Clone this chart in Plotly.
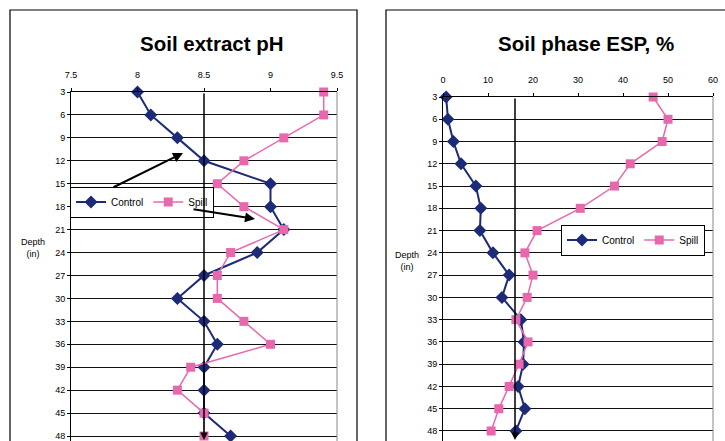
import plotly.graph_objects as go

depth = [3, 6, 9, 12, 15, 18, 21, 24, 27, 30, 33, 36, 39, 42, 45, 48]
ph_control = [8.0, 8.1, 8.3, 8.5, 9.0, 9.0, 9.1, 8.9, 8.5, 8.3, 8.5, 8.6, 8.5, 8.5, 8.5, 8.7]
ph_spill = [9.4, 9.4, 9.1, 8.8, 8.6, 8.8, 9.1, 8.7, 8.6, 8.6, 8.8, 9.0, 8.4, 8.3, 8.5, 8.5]
esp_control = [0.7, 1.1, 2.3, 4.0, 7.3, 8.4, 8.2, 11.1, 14.7, 13.1, 17.3, 18.0, 17.8, 16.7, 18.2, 16.2]
esp_spill = [46.7, 50.0, 48.7, 41.6, 38.1, 30.5, 20.9, 18.2, 20.0, 18.7, 16.2, 18.9, 16.9, 14.7, 12.4, 10.7]
ph_ticks = [7.5, 8, 8.5, 9, 9.5]
ph_ticktext = ["7.5", "8", "8.5", "9", "9.5"]
esp_ticks = [0, 10, 20, 30, 40, 50, 60]
ph_ref = 8.5
esp_ref = 16

W, H = 725, 441
FONT = "Arial, Liberation Sans, sans-serif"
C_CTRL = "#1c2a78"
C_SPILL = "#e868ae"

def px(x):
    return x / W

def py(y):
    return 1 - y / H

fig = go.Figure()

fig.add_trace(go.Scatter(x=ph_control, y=depth, name="Control", mode="lines+markers",
                         line=dict(color=C_CTRL, width=2), marker=dict(symbol="diamond", size=10, color=C_CTRL),
                         xaxis="x", yaxis="y", legend="legend", cliponaxis=False))
fig.add_trace(go.Scatter(x=ph_spill, y=depth, name="Spill", mode="lines+markers",
                         line=dict(color=C_SPILL, width=1.5), marker=dict(symbol="square", size=9, color=C_SPILL),
                         xaxis="x", yaxis="y", legend="legend", cliponaxis=False))
fig.add_trace(go.Scatter(x=esp_control, y=depth, name="Control", mode="lines+markers",
                         line=dict(color=C_CTRL, width=2), marker=dict(symbol="diamond", size=10, color=C_CTRL),
                         xaxis="x2", yaxis="y2", legend="legend2", cliponaxis=False))
fig.add_trace(go.Scatter(x=esp_spill, y=depth, name="Spill", mode="lines+markers",
                         line=dict(color=C_SPILL, width=1.5), marker=dict(symbol="square", size=9, color=C_SPILL),
                         xaxis="x2", yaxis="y2", legend="legend2", cliponaxis=False))

common_x = dict(side="top", showgrid=False, zeroline=False, showline=True, linecolor="black", linewidth=1,
                ticks="outside", ticklen=3, tickcolor="black", tickfont=dict(family=FONT, size=9, color="black"),
                ticklabelstandoff=6, fixedrange=True, automargin=False, ticklabeloverflow="allow")
common_y = dict(showgrid=True, gridcolor="#111111", gridwidth=1, zeroline=False, showline=True, linecolor="black",
                linewidth=1, ticks="outside", ticklen=3, tickcolor="black", tickvals=depth,
                ticktext=[str(d) for d in depth], tickfont=dict(family=FONT, size=9, color="black"),
                fixedrange=True, automargin=False, ticklabeloverflow="allow")

fig.update_layout(
    width=W, height=H, margin=dict(l=0, r=0, t=0, b=0, pad=0, autoexpand=False),
    paper_bgcolor="white", plot_bgcolor="white",
    xaxis=dict(common_x, domain=[px(71), px(337)], range=[7.5, 9.5], tickvals=ph_ticks, ticktext=ph_ticktext,
               anchor="y"),
    yaxis=dict(common_y, domain=[0, py(92)], range=[48.65, 3], anchor="x"),
    xaxis2=dict(common_x, domain=[px(443), px(713)], range=[0, 60], tickvals=esp_ticks, anchor="y2"),
    yaxis2=dict(common_y, domain=[0, py(97)], range=[49.35, 3], anchor="x2"),
    legend=dict(orientation="h", x=px(70), y=py(202), xanchor="left", yanchor="middle",
                bordercolor="black", borderwidth=1, bgcolor="white", itemwidth=30,
                font=dict(family=FONT, size=10, color="black"), itemclick=False),
    legend2=dict(orientation="h", x=px(561), y=py(240), xanchor="left", yanchor="middle",
                 bordercolor="black", borderwidth=1, bgcolor="white", itemwidth=30,
                 font=dict(family=FONT, size=10, color="black"), itemclick=False),
    showlegend=True,
)

shapes = [
    dict(type="rect", xref="paper", yref="paper", x0=px(10), x1=px(357), y0=py(445), y1=py(10),
         line=dict(color="black", width=1.2)),
    dict(type="rect", xref="paper", yref="paper", x0=px(386), x1=px(730), y0=py(445), y1=py(10),
         line=dict(color="black", width=1.2)),
    dict(type="line", xref="paper", yref="paper", x0=px(337), x1=px(337), y0=0, y1=py(92),
         line=dict(color="#888888", width=1)),
    dict(type="line", xref="paper", yref="paper", x0=px(713), x1=px(713), y0=0, y1=py(97),
         line=dict(color="#888888", width=1)),
]
fig.update_layout(shapes=shapes)

annotations = [
    dict(text="<b>Soil extract pH</b>", xref="paper", yref="paper", x=px(212), y=py(43), showarrow=False,
         xanchor="center", yanchor="middle", font=dict(family=FONT, size=20.5, color="black")),
    dict(text="<b>Soil phase ESP, %</b>", xref="paper", yref="paper", x=px(586), y=py(43), showarrow=False,
         xanchor="center", yanchor="middle", font=dict(family=FONT, size=20.5, color="black")),
    dict(text="Depth<br>(in)", xref="paper", yref="paper", x=px(33), y=py(248), showarrow=False,
         xanchor="center", yanchor="middle", font=dict(family=FONT, size=9, color="black")),
    dict(text="Depth<br>(in)", xref="paper", yref="paper", x=px(407), y=py(261), showarrow=False,
         xanchor="center", yanchor="middle", font=dict(family=FONT, size=9, color="black")),
    dict(text="", xref="paper", yref="paper", x=px(183), y=py(153), ax=-71, ay=35, showarrow=True,
         arrowhead=2, arrowsize=1, arrowwidth=2, arrowcolor="black"),
    dict(text="", xref="paper", yref="paper", x=px(255), y=py(219), ax=-63, ay=-10, showarrow=True,
         arrowhead=2, arrowsize=1, arrowwidth=2, arrowcolor="black"),
    dict(text="", xref="x", yref="paper", x=ph_ref, y=py(440), ax=0, ay=-(440 - 92), showarrow=True,
         arrowhead=2, arrowsize=1, arrowwidth=1.5, arrowcolor="black"),
    dict(text="", xref="x2", yref="paper", x=esp_ref, y=py(440), ax=0, ay=-(440 - 97), showarrow=True,
         arrowhead=2, arrowsize=1, arrowwidth=1.5, arrowcolor="black"),
]
fig.update_layout(annotations=annotations)

fig.write_html("out.html", config={"displayModeBar": False},
               post_script="document.body.style.margin='0';document.body.style.overflow='hidden';")
